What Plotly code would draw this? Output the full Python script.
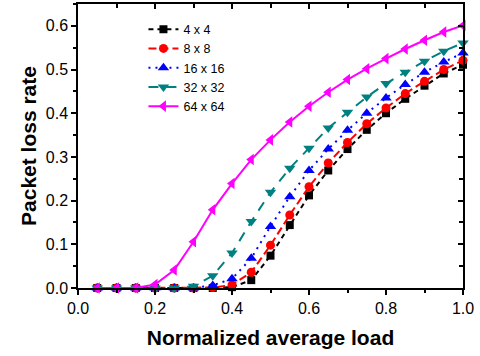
import plotly.graph_objects as go

load = [0.05, 0.10, 0.15, 0.20, 0.25, 0.30, 0.35, 0.40, 0.45, 0.50,
        0.55, 0.60, 0.65, 0.70, 0.75, 0.80, 0.85, 0.90, 0.95, 1.00]

loss_4x4 = [0.0, 0.0, 0.0, 0.0, 0.0, 0.0, 0.0, 0.002, 0.018, 0.074,
            0.144, 0.212, 0.269, 0.318, 0.362, 0.400, 0.433, 0.463, 0.491, 0.511]
loss_8x8 = [0.0, 0.0, 0.0, 0.0, 0.0, 0.0, 0.001, 0.007, 0.036, 0.098,
            0.167, 0.232, 0.286, 0.333, 0.376, 0.412, 0.445, 0.473, 0.500, 0.521]
loss_16x16 = [0.0, 0.0, 0.0, 0.0, 0.0, 0.0, 0.006, 0.021, 0.068, 0.141,
              0.209, 0.269, 0.318, 0.361, 0.400, 0.435, 0.466, 0.494, 0.517, 0.538]
loss_32x32 = [0.0, 0.0, 0.0, 0.0, 0.0, 0.004, 0.028, 0.080, 0.152, 0.219,
              0.274, 0.320, 0.366, 0.402, 0.437, 0.468, 0.494, 0.519, 0.542, 0.561]
loss_64x64 = [0.0, 0.0, 0.0, 0.008, 0.041, 0.106, 0.179, 0.239, 0.294, 0.339,
              0.380, 0.416, 0.448, 0.477, 0.502, 0.525, 0.547, 0.567, 0.586, 0.601]

names = ["4 x 4", "8 x 8", "16 x 16", "32 x 32", "64 x 64"]
series = [loss_4x4, loss_8x8, loss_16x16, loss_32x32, loss_64x64]
colors = ["#000000", "#FF0000", "#0000FF", "#008080", "#FF00FF"]
symbols = ["square", "circle", "triangle-up", "triangle-down", "triangle-left"]
dashes = ["5px,4px", "8px,4px", "2px,5px", "10px,8px", "solid"]
msizes = [8, 9, 10, 10, 10]

fig = go.Figure()
for n, s, c, sym, d, ms in zip(names, series, colors, symbols, dashes, msizes):
    fig.add_trace(go.Scatter(
        x=load, y=s, name=n, mode="lines+markers",
        line=dict(color=c, width=2, dash=d),
        marker=dict(symbol=sym, size=ms, color=c),
        cliponaxis=False,
    ))

# invisible trace to carry the mirrored (inside-tick) top/right axes
fig.add_trace(go.Scatter(x=load, y=loss_4x4, xaxis="x2", yaxis="y2",
                         mode="markers", marker=dict(opacity=0),
                         showlegend=False, hoverinfo="skip"))

font_family = "Liberation Sans, Arial, sans-serif"
axis_common = dict(showgrid=False, zeroline=False, showline=True,
                   linecolor="black", linewidth=1.5, tickcolor="black",
                   tickwidth=1.5, ticklen=5)

fig.update_layout(
    width=480, height=356,
    margin=dict(l=78, r=17, t=4, b=68),
    paper_bgcolor="white", plot_bgcolor="white",
    font=dict(family=font_family, size=16, color="black"),
    showlegend=True,
    legend=dict(x=0.17, y=0.963, xanchor="left", yanchor="top",
                bgcolor="rgba(0,0,0,0)", font=dict(size=12.5),
                tracegroupgap=0),
    xaxis=dict(range=[0, 1.0], dtick=0.2, tickformat=".1f", ticks="outside",
               minor=dict(dtick=0.1, ticks="outside", ticklen=3, tickcolor="black"),
               title=dict(text="<b>Normalized average load</b>",
                          font=dict(size=21), standoff=14),
               automargin=False, **axis_common),
    yaxis=dict(range=[0, 0.65], dtick=0.1, tickformat=".1f", ticks="outside",
               minor=dict(dtick=0.05, ticks="outside", ticklen=3, tickcolor="black"),
               title=dict(text="<b>Packet loss rate</b>",
                          font=dict(size=21), standoff=3),
               automargin=True, **axis_common),
    xaxis2=dict(range=[0, 1.0], dtick=0.2, overlaying="x", side="top",
                ticks="inside", showticklabels=False,
                minor=dict(dtick=0.1, ticks="inside", ticklen=4, tickcolor="black"),
                automargin=False, **axis_common),
    yaxis2=dict(range=[0, 0.65], dtick=0.1, overlaying="y", side="right",
                ticks="inside", showticklabels=False,
                minor=dict(dtick=0.05, ticks="inside", ticklen=4, tickcolor="black"),
                automargin=False, **axis_common),
)

fig.write_html("out.html", config={"displayModeBar": False},
               post_script="document.body.style.margin='0';document.body.style.padding='0';")
